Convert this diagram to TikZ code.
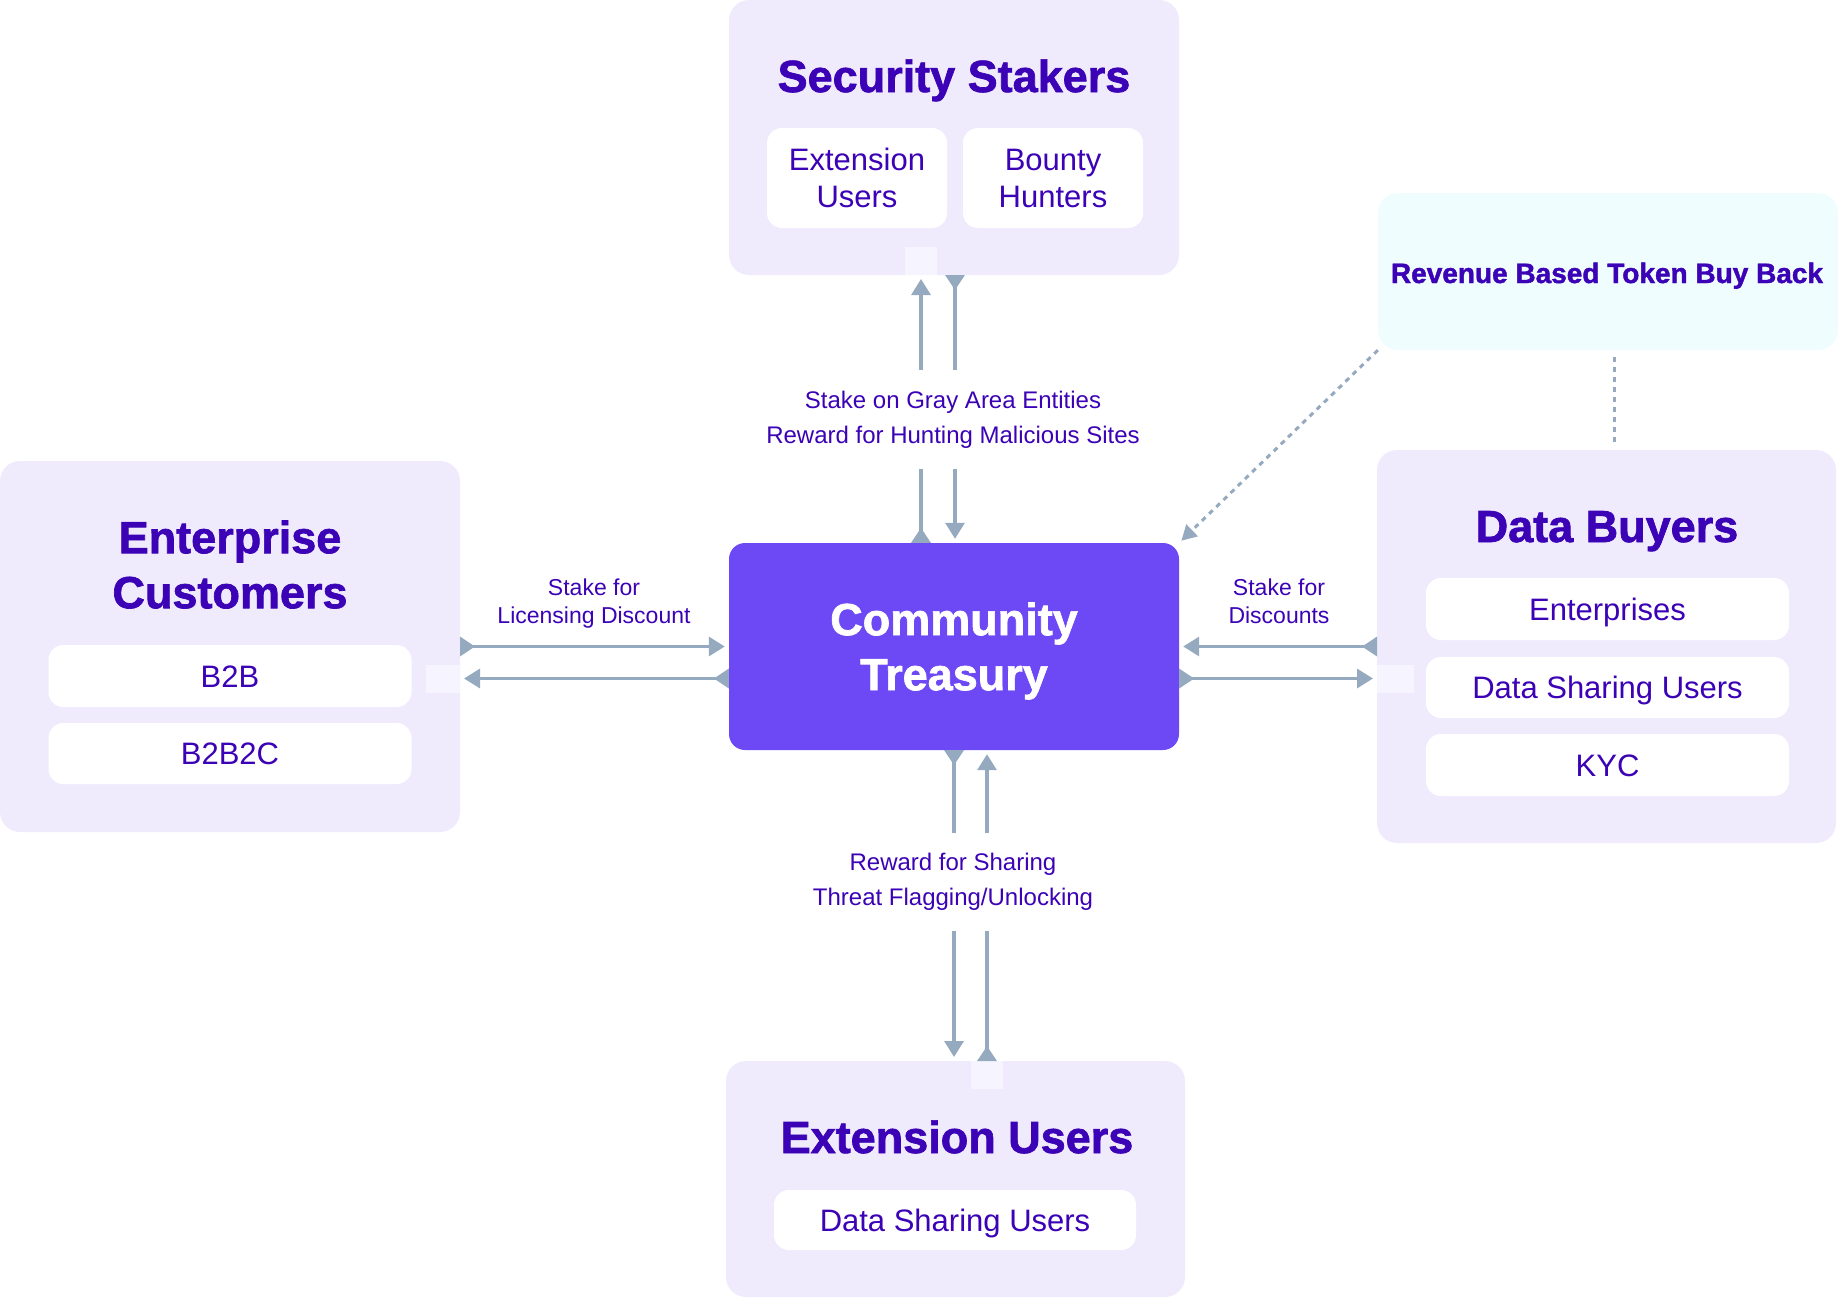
\documentclass[tikz,border=0pt]{standalone}
\usepackage{fontspec}
\setmainfont{Liberation Sans}
\newfontfamily\heavyfont{Liberation Sans}[BoldFeatures={FakeBold=1.5}]
\usetikzlibrary{arrows.meta}
\definecolor{txt}{HTML}{3B02B6}
\definecolor{boxbg}{HTML}{EFEBFD}
\definecolor{portbg}{HTML}{F6F4FE}
\definecolor{treas}{HTML}{6D48F5}
\definecolor{revbg}{HTML}{EFFDFE}
\definecolor{arr}{HTML}{95A9BF}
\begin{document}
\begin{tikzpicture}[x=1pt,y=-1pt,
  grp/.style={fill=boxbg, rounded corners=20pt, inner sep=0pt, outer sep=0pt},
  itm/.style={fill=white, rounded corners=15pt, inner sep=0pt, text=txt, font=\fontsize{31}{37}\selectfont, align=center},
  one/.style={text height=22pt, text depth=0pt},
  ttl/.style={text=txt, font=\fontsize{45}{55}\selectfont\heavyfont\bfseries, inner sep=0pt, align=center},
  lbl/.style={text=txt, font=\fontsize{24}{35}\selectfont, align=center},
  slbl/.style={text=txt, font=\fontsize{23}{28}\selectfont, align=center, inner sep=0pt},
  flow/.style={draw=arr, line width=3.2pt, {Triangle[reversed,width=19pt,length=15pt]}-{Triangle[width=19pt,length=16pt]}, shorten >=4pt},
  dots/.style={draw=arr, line width=3pt, dash pattern=on 5pt off 5pt}]
\useasboundingbox (0,0) rectangle (1838,1299);

% group boxes
\node[grp, minimum width=450pt, minimum height=275pt] (ss) at (954,137.5) {};
\node[grp, minimum width=460pt, minimum height=371pt] (ec) at (230,646.5) {};
\node[grp, minimum width=459pt, minimum height=393pt] (db) at (1606.5,646.5) {};
\node[grp, minimum width=459pt, minimum height=236pt] (eu) at (955.5,1179) {};
\node[fill=revbg, rounded corners=20pt, inner sep=0pt, minimum width=460pt, minimum height=157pt] (rv) at (1608,271.5) {};
\node[fill=treas, rounded corners=16pt, inner sep=0pt, minimum width=450pt, minimum height=207pt] (tr) at (954,646.5) {};

% ports
\fill[portbg] (905,247) rectangle (937,275);
\fill[portbg] (426,665) rectangle (460,693);
\fill[portbg] (1377,665) rectangle (1414,693);
\fill[portbg] (971,1061) rectangle (1003,1089);

% titles
\node[ttl, anchor=base] (ssT) at (954,92) {Security Stakers};
\node[ttl] (ecT) at (230,564.6) {Enterprise\\Customers};
\node[ttl, anchor=base] (dbT) at (1607,542) {Data Buyers};
\node[ttl, anchor=base] (euT) at (957,1153) {Extension Users};
\node[text=txt, font=\fontsize{28}{34}\selectfont\heavyfont\bfseries, inner sep=0pt, anchor=base] (rvT) at (1607,283) {Revenue Based Token Buy Back};
\node[ttl, text=white] (trT) at (954,651) {Community\\Treasury};

% items
\node[itm, minimum width=180pt, minimum height=100pt] (ss1) at (857,178) {Extension\\Users};
\node[itm, minimum width=180pt, minimum height=100pt] (ss2) at (1053,178) {Bounty\\Hunters};
\node[itm, one, minimum width=363pt, minimum height=62pt] (ec1) at (230,676) {B2B};
\node[itm, one, minimum width=363pt, minimum height=61pt] (ec2) at (230,753.5) {B2B2C};
\node[itm, one, minimum width=363pt, minimum height=62pt] (db1) at (1607.5,609) {Enterprises};
\node[itm, one, minimum width=363pt, minimum height=61pt] (db2) at (1607.5,687.5) {Data Sharing Users};
\node[itm, one, minimum width=363pt, minimum height=62pt] (db3) at (1607.5,765) {KYC};
\node[itm, one, minimum width=362pt, minimum height=60pt] (eu1) at (955,1220) {Data Sharing Users};

% connectors
\draw[flow] ([xshift=-33pt]tr.north) -- ([xshift=-33pt]ss.south);
\draw[flow] ([xshift=1pt]ss.south) -- ([xshift=1pt]tr.north);
\draw[flow] (tr.south) -- ([xshift=-1.5pt]eu.north);
\draw[flow] ([xshift=31.5pt]eu.north) -- ([xshift=33pt]tr.south);
\draw[flow] (ec.east) -- (tr.west);
\draw[flow] ([yshift=-32pt]tr.west) -- ([yshift=-32pt]ec.east);
\draw[flow] (db.west) -- (tr.east);
\draw[flow] ([yshift=-32pt]tr.east) -- ([yshift=-32pt]db.west);

\draw[dots, -{Triangle[width=16pt,length=15pt]}, shorten >=3pt] (rv.south west) -- (tr.north east);
\draw[dots, shorten <=7pt, shorten >=3pt] ([xshift=6pt]rv.south) -- ([xshift=6pt]rv.south |- db.north);

% labels
\node[lbl, fill=white, minimum height=99pt, inner xsep=6pt] (lt) at (953,419.5) {Stake on Gray Area Entities\\Reward for Hunting Malicious Sites};
\node[lbl, fill=white, minimum height=98pt, inner xsep=6pt] (lb) at (953,882) {Reward for Sharing\\Threat Flagging/Unlocking};
\node[slbl] (ll) at (594,604) {Stake for\\Licensing Discount};
\node[slbl] (rl) at (1279,601.6) {Stake for\\Discounts};
\end{tikzpicture}
\end{document}
